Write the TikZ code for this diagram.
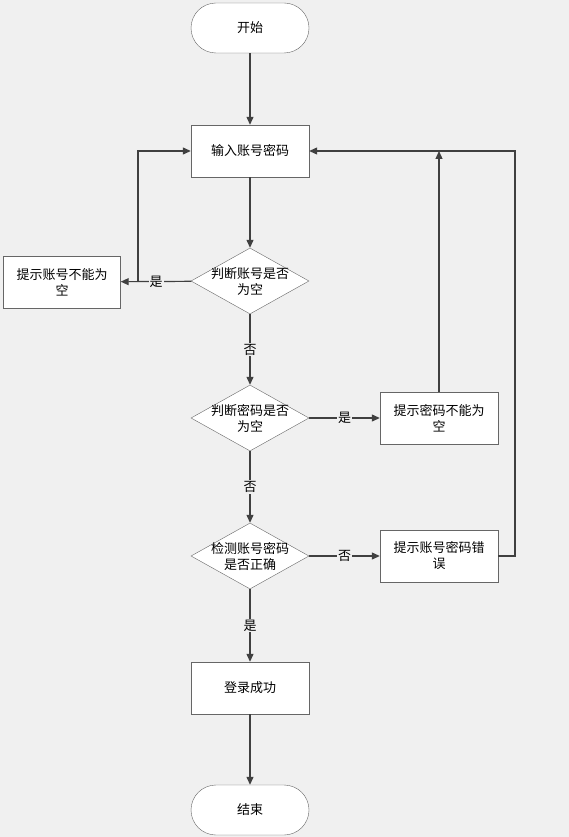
\documentclass[tikz,border=0pt]{standalone}
\usepackage{fontspec}
\setmainfont{Noto Sans CJK SC}
\usetikzlibrary{shapes.geometric,arrows.meta}
\definecolor{bg}{HTML}{F0F0F0}
\definecolor{ln}{HTML}{404040}
\tikzset{
  box/.style={draw=ln!80,fill=white,minimum width=118pt,minimum height=52pt,align=center,inner sep=1pt},
  term/.style={box,rounded corners=25pt,minimum height=50pt},
  dec/.style={draw=ln!80,fill=white,diamond,aspect=1.79,minimum width=118pt,minimum height=66pt,align=center,inner sep=-6pt},
  arr/.style={draw=ln,line width=1.2pt,-{Triangle[length=8pt,width=7pt]}},
  lbl/.style={fill=bg,inner sep=1pt}
}
\begin{document}
\begin{tikzpicture}[x=1pt,y=-1pt,font=\fontsize{13}{16}\selectfont]
\fill[bg] (0,0) rectangle (569,837);
\useasboundingbox (0,0) rectangle (569,837);
% nodes
\node[term] (start) at (250,28) {开始};
\node[box] (input) at (250,151) {输入账号密码};
\node[dec] (chkuser) at (250,281) {判断账号是否\\为空};
\node[box,minimum width=117pt] (tipuser) at (62,282) {提示账号不能为\\空};
\node[dec] (chkpass) at (250,418) {判断密码是否\\为空};
\node[box] (tippass) at (439,418) {提示密码不能为\\空};
\node[dec] (chkboth) at (250,556) {检测账号密码\\是否正确};
\node[box] (tipwrong) at (439,556) {提示账号密码错\\误};
\node[box] (ok) at (250,688) {登录成功};
\node[term] (stop) at (250,810) {结束};
\coordinate (j1) at (138,281);
\coordinate (j2) at (439,151);
\coordinate (j3) at (515,151);
% connectors
\draw[arr] (start) -- (input);
\draw[arr] (input) -- (chkuser);
\draw[arr] (chkuser) -- node[lbl,pos=0.5]{是} (tipuser);
\draw[arr] (j1) |- (input.west);
\draw[arr] (chkuser) -- node[lbl]{否} (chkpass);
\draw[arr] (chkpass) -- node[lbl]{是} (tippass);
\draw[arr] (tippass) -- (j2);
\draw[arr] (chkpass) -- node[lbl]{否} (chkboth);
\draw[arr] (chkboth) -- node[lbl]{否} (tipwrong);
\draw[arr] (tipwrong.east) -| (j3) -- (input.east);
\draw[arr] (chkboth) -- node[lbl]{是} (ok);
\draw[arr] (ok) -- (stop);
\end{tikzpicture}
\end{document}
